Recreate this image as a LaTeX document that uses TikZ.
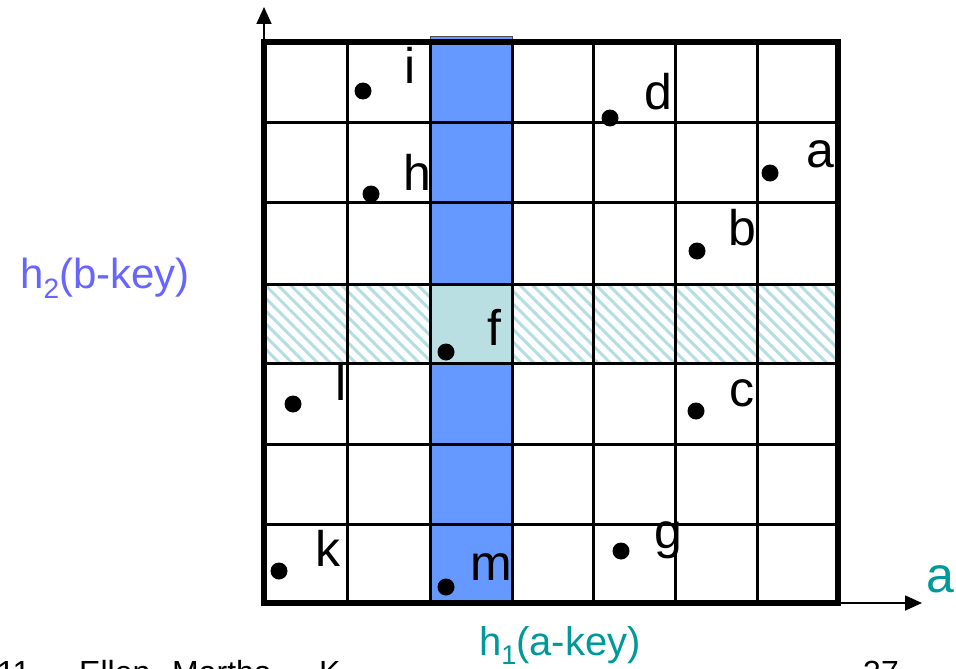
\documentclass[tikz,border=0pt]{standalone}
\usepackage{fontspec}
\setmainfont{Liberation Sans}
\usetikzlibrary{arrows.meta,patterns.meta}
\definecolor{colblue}{HTML}{6699FF}
\definecolor{hatchc}{HTML}{B5DEE2}
\definecolor{fcell}{HTML}{B9DFE3}
\definecolor{tealc}{HTML}{009999}
\definecolor{violetc}{HTML}{6666FF}
\newcommand\mysub[2]{\raisebox{-0.24em}{\fontsize{#1}{#1}\selectfont #2}}
\begin{document}
\begin{tikzpicture}[x=1pt,y=-1pt,
  dot/.style={circle,fill=black,inner sep=0pt,minimum size=17pt},
  lbl/.style={anchor=base,inner sep=0pt,font=\fontsize{50}{60}\selectfont},
  axlbl/.style={anchor=base,inner sep=0pt,text=tealc},
  foot/.style={anchor=base west,inner sep=0pt,font=\fontsize{32}{38}\selectfont},
  gridline/.style={line width=3pt},
  axis/.style={line width=1.8pt,-{Triangle[length=17pt,width=15pt]}}]
\useasboundingbox (0,0) rectangle (956,669);
\fill[white] (0,0) rectangle (956,669);
% hatched row
\fill[pattern={Lines[angle=-45,distance=9pt,line width=3pt]},pattern color=hatchc] (264,284) rectangle (838,363);
% blue column
\filldraw[fill=colblue,draw=black!70,line width=1pt] (430,37) rectangle (512,603);
\fill[fcell] (430,284) rectangle (512,363);
% grid
\foreach \x in {347,430,512,593,675,757} \draw[gridline] (\x,42) -- (\x,603);
\foreach \y in {122,202,284,363,444,524} \draw[gridline] (264,\y) -- (838,\y);
\draw[line width=6pt] (264,42) rectangle (838,603);
% axes
\coordinate (ybase) at (264,42);
\coordinate (ytop) at (264,7);
\coordinate (xbase) at (838,603);
\coordinate (xend) at (922,603);
\draw[axis] (ybase) -- (ytop);
\draw[axis] (xbase) -- (xend);
% points
\node[dot] (pi) at (363,91) {};
\node[lbl] (li) at (410,84) {i};
\node[dot] (pd) at (610,118) {};
\node[lbl] (ld) at (658,109) {d};
\node[dot] (pa) at (770,173) {};
\node[lbl] (la) at (820,167) {a};
\node[dot] (ph) at (371,194) {};
\node[lbl] (lh) at (417,190) {h};
\node[dot] (pb) at (697,251) {};
\node[lbl] (lb) at (742,245) {b};
\node[dot] (pf) at (446,352) {};
\node[lbl] (lf) at (494,345) {f};
\node[dot] (pl) at (293,404) {};
\node[lbl] (ll) at (341,400) {l};
\node[dot] (pc) at (696,411) {};
\node[lbl] (lc) at (742,406) {c};
\node[dot] (pg) at (621,551) {};
\node[lbl] (lg) at (668,548) {g};
\node[dot] (pk) at (279,571) {};
\node[lbl] (lk) at (328,566) {k};
\node[dot] (pm) at (446,587) {};
\node[lbl] (lm) at (491,580) {m};
% axis labels
\node[axlbl,font=\fontsize{50}{60}\selectfont] (axa) at (940,592) {a};
\node[axlbl,font=\fontsize{40}{48}\selectfont] (h1) at (560,655) {h\mysub{27}{1}(a-key)};
\node[anchor=base,inner sep=0pt,text=violetc,font=\fontsize{42}{50}\selectfont] (h2) at (105,288) {h\mysub{28}{2}(b-key)};
% footer (cut by the page edge)
\begin{scope}
\clip (0,0) rectangle (956,669);
\node[foot] (f1) at (-3,683) {11};
\node[foot] (f2) at (79,683) {Ellen};
\node[foot] (f3) at (172,683) {Martha};
\node[foot] (f4) at (319,683) {K};
\node[foot] (f5) at (863,683) {37};
\end{scope}
\end{tikzpicture}
\end{document}
